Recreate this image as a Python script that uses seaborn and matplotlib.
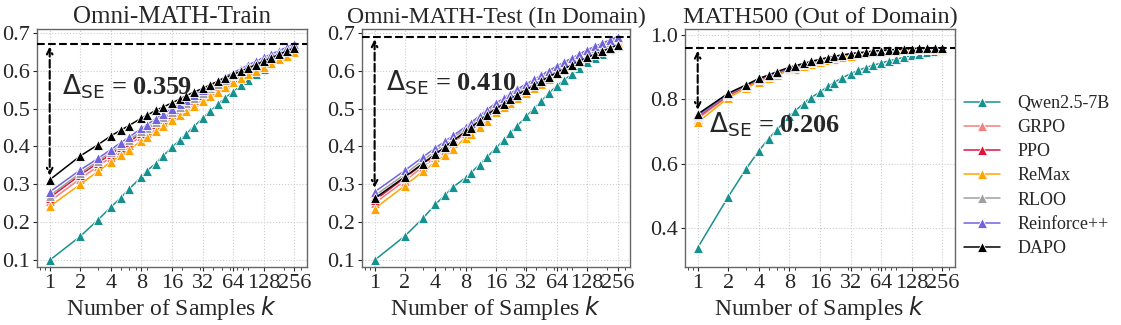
import numpy as np
import pandas as pd
import matplotlib
matplotlib.use("Agg")
import matplotlib.pyplot as plt
import seaborn as sns

# ================== data ==================
k_values = [1, 2, 3, 4, 5, 6, 8, 9, 11, 13, 16, 19, 22, 26, 32, 38, 45, 53,
            64, 76, 90, 107, 128, 152, 181, 215, 256]
methods = ["Qwen2.5-7B", "GRPO", "PPO", "ReMax", "RLOO", "Reinforce++", "DAPO"]
colors = ["#17918f", "#f28080", "#dc143c", "#ffa500", "#a0a0a0", "#7263dc", "#000000"]

titles = ["Omni-MATH-Train", "Omni-MATH-Test (In Domain)", "MATH500 (Out of Domain)"]
delta_labels = ["0.359", "0.410", "0.206"]

# Omni-MATH-Train
train = {
    "Qwen2.5-7B": [0.100, 0.163, 0.207, 0.240, 0.265, 0.287, 0.320, 0.335, 0.355, 0.375, 0.398, 0.417, 0.433, 0.452,
                   0.475, 0.493, 0.511, 0.528, 0.545, 0.561, 0.576, 0.591, 0.605, 0.618, 0.631, 0.643, 0.655],
    "GRPO": [0.255, 0.315, 0.348, 0.372, 0.390, 0.404, 0.427, 0.436, 0.452, 0.465, 0.480, 0.493, 0.504, 0.517,
             0.530, 0.542, 0.554, 0.566, 0.578, 0.588, 0.598, 0.608, 0.618, 0.628, 0.638, 0.648, 0.658],
    "PPO": [0.265, 0.325, 0.357, 0.380, 0.398, 0.412, 0.435, 0.444, 0.460, 0.473, 0.487, 0.500, 0.511, 0.523,
            0.536, 0.548, 0.560, 0.571, 0.583, 0.593, 0.603, 0.614, 0.624, 0.634, 0.644, 0.654, 0.664],
    "ReMax": [0.242, 0.300, 0.335, 0.360, 0.378, 0.392, 0.415, 0.424, 0.440, 0.453, 0.470, 0.483, 0.494, 0.507,
              0.520, 0.532, 0.545, 0.557, 0.570, 0.580, 0.590, 0.600, 0.610, 0.620, 0.630, 0.640, 0.650],
    "RLOO": [0.270, 0.330, 0.362, 0.385, 0.403, 0.417, 0.440, 0.449, 0.465, 0.478, 0.492, 0.505, 0.516, 0.528,
             0.541, 0.553, 0.565, 0.576, 0.588, 0.598, 0.608, 0.618, 0.628, 0.638, 0.647, 0.657, 0.666],
    "Reinforce++": [0.280, 0.338, 0.369, 0.392, 0.410, 0.424, 0.448, 0.457, 0.473, 0.486, 0.500, 0.512, 0.523, 0.536,
                    0.548, 0.560, 0.572, 0.584, 0.595, 0.605, 0.615, 0.625, 0.635, 0.644, 0.653, 0.662, 0.671],
    "DAPO": [0.312, 0.375, 0.405, 0.428, 0.443, 0.455, 0.475, 0.482, 0.495, 0.504, 0.515, 0.525, 0.534, 0.543,
             0.553, 0.563, 0.572, 0.581, 0.590, 0.599, 0.607, 0.616, 0.625, 0.634, 0.643, 0.652, 0.660],
}

# Omni-MATH-Test
test = {
    "Qwen2.5-7B": [0.100, 0.164, 0.210, 0.247, 0.272, 0.293, 0.318, 0.331, 0.352, 0.372, 0.396, 0.417, 0.435, 0.455,
                   0.480, 0.500, 0.520, 0.540, 0.560, 0.576, 0.591, 0.607, 0.622, 0.634, 0.645, 0.656, 0.665],
    "GRPO": [0.250, 0.310, 0.346, 0.372, 0.392, 0.409, 0.435, 0.446, 0.465, 0.481, 0.500, 0.512, 0.524, 0.537,
             0.550, 0.562, 0.574, 0.587, 0.600, 0.611, 0.621, 0.632, 0.643, 0.652, 0.661, 0.671, 0.680],
    "PPO": [0.258, 0.318, 0.353, 0.378, 0.398, 0.414, 0.440, 0.451, 0.470, 0.486, 0.505, 0.517, 0.529, 0.542,
            0.555, 0.567, 0.579, 0.592, 0.605, 0.616, 0.626, 0.637, 0.648, 0.657, 0.666, 0.674, 0.683],
    "ReMax": [0.236, 0.297, 0.334, 0.359, 0.378, 0.394, 0.423, 0.433, 0.452, 0.468, 0.490, 0.503, 0.514, 0.527,
              0.540, 0.553, 0.565, 0.578, 0.590, 0.601, 0.612, 0.624, 0.635, 0.645, 0.655, 0.665, 0.675],
    "RLOO": [0.270, 0.327, 0.363, 0.388, 0.407, 0.423, 0.447, 0.458, 0.476, 0.492, 0.510, 0.522, 0.534, 0.547,
             0.560, 0.572, 0.584, 0.596, 0.608, 0.619, 0.630, 0.641, 0.652, 0.660, 0.668, 0.677, 0.685],
    "Reinforce++": [0.280, 0.337, 0.372, 0.396, 0.414, 0.429, 0.452, 0.463, 0.481, 0.497, 0.515, 0.527, 0.539, 0.552,
                    0.565, 0.577, 0.588, 0.600, 0.612, 0.623, 0.633, 0.644, 0.655, 0.664, 0.673, 0.681, 0.690],
    "DAPO": [0.263, 0.320, 0.355, 0.380, 0.399, 0.415, 0.440, 0.450, 0.468, 0.484, 0.500, 0.512, 0.524, 0.537,
             0.550, 0.561, 0.572, 0.584, 0.595, 0.605, 0.615, 0.625, 0.635, 0.643, 0.651, 0.660, 0.668],
}

# MATH500
math500 = {
    "Qwen2.5-7B": [0.338, 0.497, 0.584, 0.640, 0.678, 0.705, 0.748, 0.763, 0.787, 0.805, 0.823, 0.840, 0.852, 0.866,
                   0.880, 0.890, 0.899, 0.906, 0.913, 0.920, 0.925, 0.931, 0.937, 0.942, 0.946, 0.951, 0.955],
    "GRPO": [0.740, 0.810, 0.839, 0.858, 0.869, 0.879, 0.893, 0.898, 0.906, 0.913, 0.920, 0.926, 0.930, 0.935,
             0.939, 0.942, 0.945, 0.948, 0.950, 0.952, 0.954, 0.955, 0.956, 0.957, 0.958, 0.959, 0.959],
    "PPO": [0.745, 0.813, 0.841, 0.860, 0.871, 0.880, 0.895, 0.900, 0.908, 0.914, 0.921, 0.927, 0.931, 0.936,
            0.940, 0.943, 0.946, 0.948, 0.950, 0.952, 0.954, 0.955, 0.956, 0.957, 0.958, 0.959, 0.959],
    "ReMax": [0.728, 0.805, 0.835, 0.855, 0.866, 0.875, 0.890, 0.895, 0.903, 0.910, 0.917, 0.923, 0.927, 0.932,
              0.936, 0.940, 0.943, 0.946, 0.948, 0.950, 0.952, 0.954, 0.955, 0.956, 0.957, 0.958, 0.958],
    "RLOO": [0.748, 0.815, 0.843, 0.862, 0.873, 0.882, 0.896, 0.901, 0.909, 0.915, 0.922, 0.928, 0.932, 0.937,
             0.941, 0.944, 0.946, 0.949, 0.951, 0.953, 0.954, 0.955, 0.957, 0.958, 0.959, 0.959, 0.960],
    "Reinforce++": [0.750, 0.817, 0.844, 0.863, 0.874, 0.883, 0.897, 0.902, 0.910, 0.916, 0.923, 0.929, 0.933, 0.937,
                    0.941, 0.944, 0.947, 0.950, 0.952, 0.954, 0.955, 0.956, 0.957, 0.958, 0.959, 0.960, 0.960],
    "DAPO": [0.754, 0.819, 0.845, 0.865, 0.876, 0.886, 0.900, 0.904, 0.912, 0.918, 0.925, 0.930, 0.934, 0.938,
             0.942, 0.945, 0.947, 0.950, 0.952, 0.954, 0.955, 0.957, 0.958, 0.959, 0.959, 0.960, 0.960],
}

panels = [train, test, math500]
ylims = [(0.082, 0.71), (0.082, 0.71), (0.278, 1.019)]
yticks = [[0.1, 0.2, 0.3, 0.4, 0.5, 0.6, 0.7], [0.1, 0.2, 0.3, 0.4, 0.5, 0.6, 0.7], [0.4, 0.6, 0.8, 1.0]]
ytick_fmt = ["{:.1f}", "{:.1f}", "{:.1f}"]
delta_pos = [(1.31, 0.557), (1.31, 0.567), (1.28, 0.72)]
xticks = [1, 2, 4, 8, 16, 32, 64, 128, 256]
title_sizes = [18, 17, 17.5]

# ================== style ==================
sns.set_style("ticks")
plt.rcParams["font.family"] = ["Liberation Serif", "DejaVu Serif"]
plt.rcParams["mathtext.fontset"] = "dejavusans"

fig = plt.figure(figsize=(11.21, 3.25), dpi=100)
axes_rect = [
    [37 / 1121, 1 - 267 / 325, 270 / 1121, 238 / 325],
    [362 / 1121, 1 - 267 / 325, 268 / 1121, 238 / 325],
    [685 / 1121, 1 - 267 / 325, 270 / 1121, 238 / 325],
]

for i, data in enumerate(panels):
    ax = fig.add_axes(axes_rect[i])
    df = pd.DataFrame([(m, k, v) for m in methods for k, v in zip(k_values, data[m])],
                      columns=["method", "k", "acc"])
    sns.lineplot(data=df, x="k", y="acc", hue="method", hue_order=methods,
                 palette=colors, marker="^", markersize=6.5, linewidth=1.1,
                 markeredgewidth=0.6, legend=(i == 2), ax=ax)

    ax.set_xscale("log")
    ax.set_xlim(0.75, 340)
    ax.set_xticks(xticks)
    ax.set_xticklabels([str(t) for t in xticks])
    ax.xaxis.set_minor_formatter(matplotlib.ticker.NullFormatter())
    ax.set_ylim(*ylims[i])
    ax.set_yticks(yticks[i])
    ax.set_yticklabels([ytick_fmt[i].format(t) for t in yticks[i]])
    ax.tick_params(axis="both", which="major", labelsize=16, length=3, pad=2)
    ax.tick_params(axis="x", which="minor", length=2)
    ax.grid(True, which="major", ls=":", color="#cccccc", lw=0.8)
    for sp in ax.spines.values():
        sp.set_color("#666666")
        sp.set_linewidth(1.0)

    ax.set_title(titles[i], fontsize=title_sizes[i], pad=4)
    ax.set_xlabel("Number of Samples $k$", fontsize=17, labelpad=1)
    ax.set_ylabel("")

    # 上界和k=1之间的差距
    top = max(data[m][-1] for m in methods)
    bottom = max(data[m][0] for m in methods)
    ax.axhline(top, ls="--", color="black", lw=1.5, zorder=5)
    ax.annotate("", xy=(k_values[0], bottom), xytext=(k_values[0], top),
                arrowprops=dict(arrowstyle="<->", ls="--", lw=1.5, color="black",
                                shrinkA=2, shrinkB=3), zorder=6)
    ax.text(delta_pos[i][0], delta_pos[i][1], r"$\Delta_{\mathrm{SE}}$ = " + delta_labels[i],
            fontsize=19, fontweight="bold", ha="left", va="center", zorder=7)

    if i == 2:
        handles, labels = ax.get_legend_handles_labels()
        ax.get_legend().remove()

fig.legend(handles, labels, loc="center left", bbox_to_anchor=(948 / 1121, 1 - 176 / 325),
           frameon=False, fontsize=13, handlelength=2.0, handletextpad=0.95, labelspacing=0.4)

fig.savefig("out.png", dpi=100)
